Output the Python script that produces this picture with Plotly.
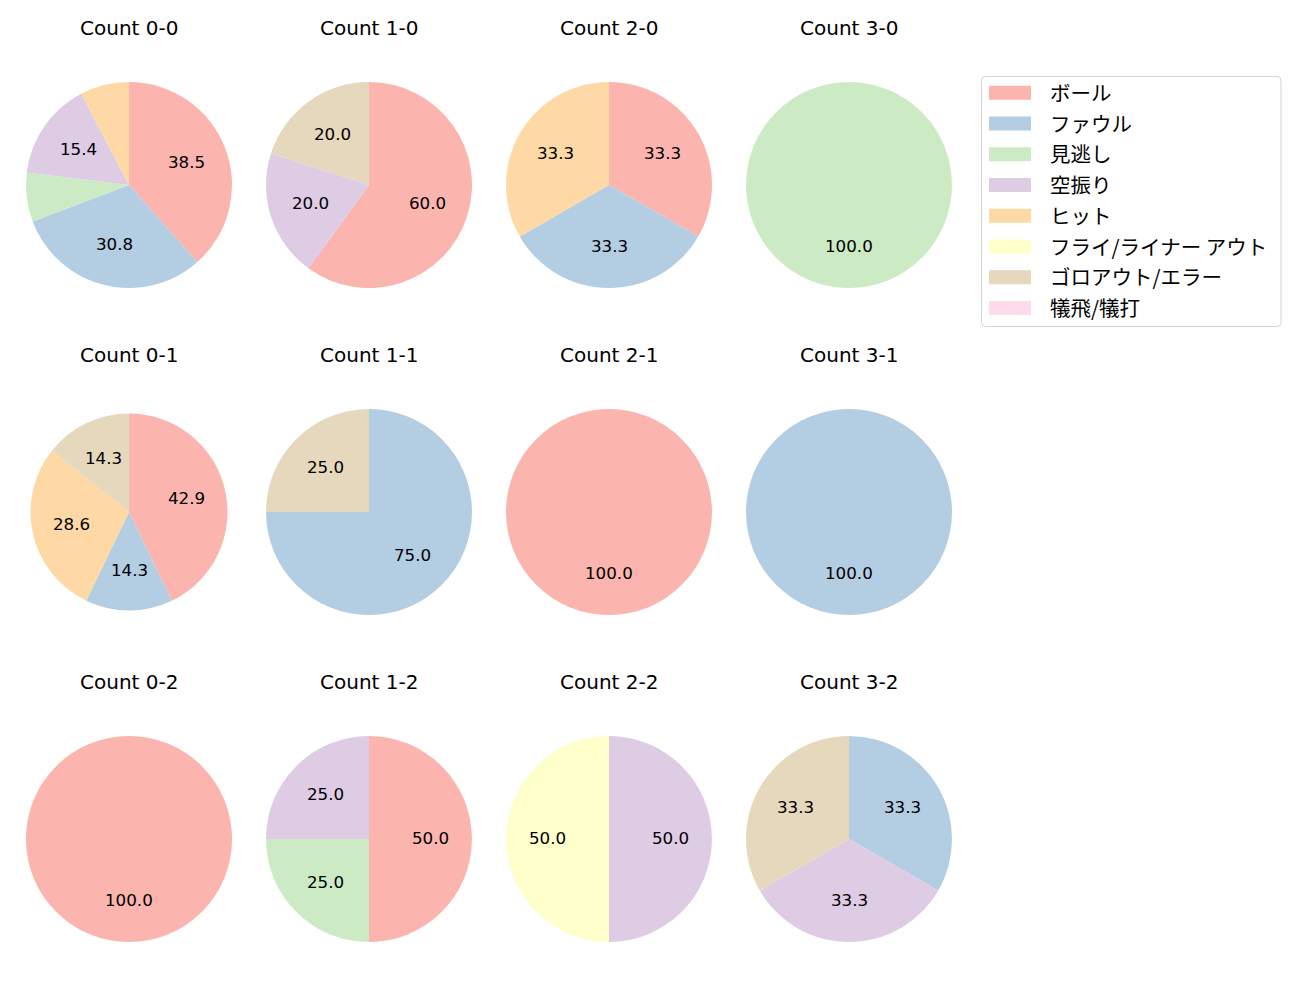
import math
import plotly.graph_objects as go

categories = ["ボール", "ファウル", "見逃し", "空振り", "ヒット",
              "フライ/ライナー アウト", "ゴロアウト/エラー", "犠飛/犠打"]
colors = ["#fbb4ae", "#b3cde3", "#ccebc5", "#decbe4", "#fed9a6",
          "#ffffcc", "#e5d8bd", "#fddaec"]

titles = ["Count 0-0", "Count 1-0", "Count 2-0", "Count 3-0",
          "Count 0-1", "Count 1-1", "Count 2-1", "Count 3-1",
          "Count 0-2", "Count 1-2", "Count 2-2", "Count 3-2"]

# counts per category (same order as categories)
count_0_0 = [5, 4, 1, 2, 1, 0, 0, 0]
count_1_0 = [3, 0, 0, 1, 0, 0, 1, 0]
count_2_0 = [1, 1, 0, 0, 1, 0, 0, 0]
count_3_0 = [0, 0, 1, 0, 0, 0, 0, 0]
count_0_1 = [3, 1, 0, 0, 2, 0, 1, 0]
count_1_1 = [0, 3, 0, 0, 0, 0, 1, 0]
count_2_1 = [1, 0, 0, 0, 0, 0, 0, 0]
count_3_1 = [0, 1, 0, 0, 0, 0, 0, 0]
count_0_2 = [1, 0, 0, 0, 0, 0, 0, 0]
count_1_2 = [2, 0, 1, 1, 0, 0, 0, 0]
count_2_2 = [0, 0, 0, 1, 0, 1, 0, 0]
count_3_2 = [0, 1, 0, 1, 0, 0, 1, 0]

all_counts = [count_0_0, count_1_0, count_2_0, count_3_0,
              count_0_1, count_1_1, count_2_1, count_3_1,
              count_0_2, count_1_2, count_2_2, count_3_2]

# layout (pixels)
W, H = 1300, 1000
col_cx = [129, 369, 609, 849]
row_cy = [185, 512, 839]
radii = [103, 103, 103, 103,
         98.5, 103, 103, 103,
         103, 103, 103, 103]
title_dy = 157
TXT_FONT = "DejaVu Sans, Noto Sans CJK JP"
JP_FONT = "Noto Sans CJK JP"

fig = go.Figure()
annotations = []

for i, vals in enumerate(all_counts):
    r, c = divmod(i, 4)
    cx, cy = col_cx[c], row_cy[r]
    R = radii[i]
    labs = [categories[k] for k in range(8) if vals[k] > 0]
    vs = [vals[k] for k in range(8) if vals[k] > 0]
    cols = [colors[k] for k in range(8) if vals[k] > 0]
    fig.add_trace(go.Pie(
        labels=labs, values=vs, sort=False, direction="clockwise", rotation=0,
        marker=dict(colors=cols, line=dict(width=0)),
        textinfo="none", hoverinfo="label+percent", showlegend=False,
        domain=dict(x=[(cx - R) / W, (cx + R) / W],
                    y=[1 - (cy + R) / H, 1 - (cy - R) / H]),
    ))
    total = sum(vs)
    cum = 0
    for v in vs:
        pct = 100 * v / total
        mid = 90 - 360 * (cum + v / 2) / total
        cum += v
        if pct < 10:
            continue
        tx = cx + 0.6 * R * math.cos(math.radians(mid))
        ty = cy - 0.6 * R * math.sin(math.radians(mid)) - 1
        annotations.append(dict(x=tx / W, y=1 - ty / H, xref="paper", yref="paper",
                                text=f"{pct:.1f}", showarrow=False,
                                xanchor="center", yanchor="middle",
                                font=dict(family=TXT_FONT, size=16.7, color="black")))
    annotations.append(dict(x=cx / W, y=1 - (cy - title_dy) / H, xref="paper", yref="paper",
                            text=titles[i], showarrow=False,
                            xanchor="center", yanchor="middle",
                            font=dict(family=TXT_FONT, size=20, color="black")))

# legend (drawn manually)
x0, x1, y0, y1, rr = 981.5, 1281, 76.5, 326.5, 4
path = (f"M {x0+rr},{y0} L {x1-rr},{y0} Q {x1},{y0} {x1},{y0+rr} "
        f"L {x1},{y1-rr} Q {x1},{y1} {x1-rr},{y1} L {x0+rr},{y1} "
        f"Q {x0},{y1} {x0},{y1-rr} L {x0},{y0+rr} Q {x0},{y0} {x0+rr},{y0} Z")
shapes = []
fig.update_xaxes(visible=False, range=[0, W], fixedrange=True)
fig.update_yaxes(visible=False, range=[H, 0], fixedrange=True)
shapes.append(dict(type="path", xref="x", yref="y", path=path,
                   line=dict(color="#d4d4d4", width=1), fillcolor="white", layer="below"))
for k, name in enumerate(categories):
    yc = 92.8 + 30.74 * k
    shapes.append(dict(type="rect", xref="paper", yref="paper",
                       x0=989 / W, x1=1031 / W, y0=1 - (yc + 7) / H, y1=1 - (yc - 7) / H,
                       line=dict(width=0), fillcolor=colors[k]))
    annotations.append(dict(x=1048 / W, y=1 - (yc - 1) / H, xref="paper", yref="paper",
                            text=name, showarrow=False, xanchor="left", yanchor="middle",
                            font=dict(family=JP_FONT, size=20.5, color="black")))

fig.update_layout(width=W, height=H, margin=dict(l=0, r=0, t=0, b=0),
                  paper_bgcolor="white", plot_bgcolor="rgba(0,0,0,0)",
                  xaxis=dict(domain=[0, 1]), yaxis=dict(domain=[0, 1]),
                  annotations=annotations, shapes=shapes)

fig.write_html("out.html")
